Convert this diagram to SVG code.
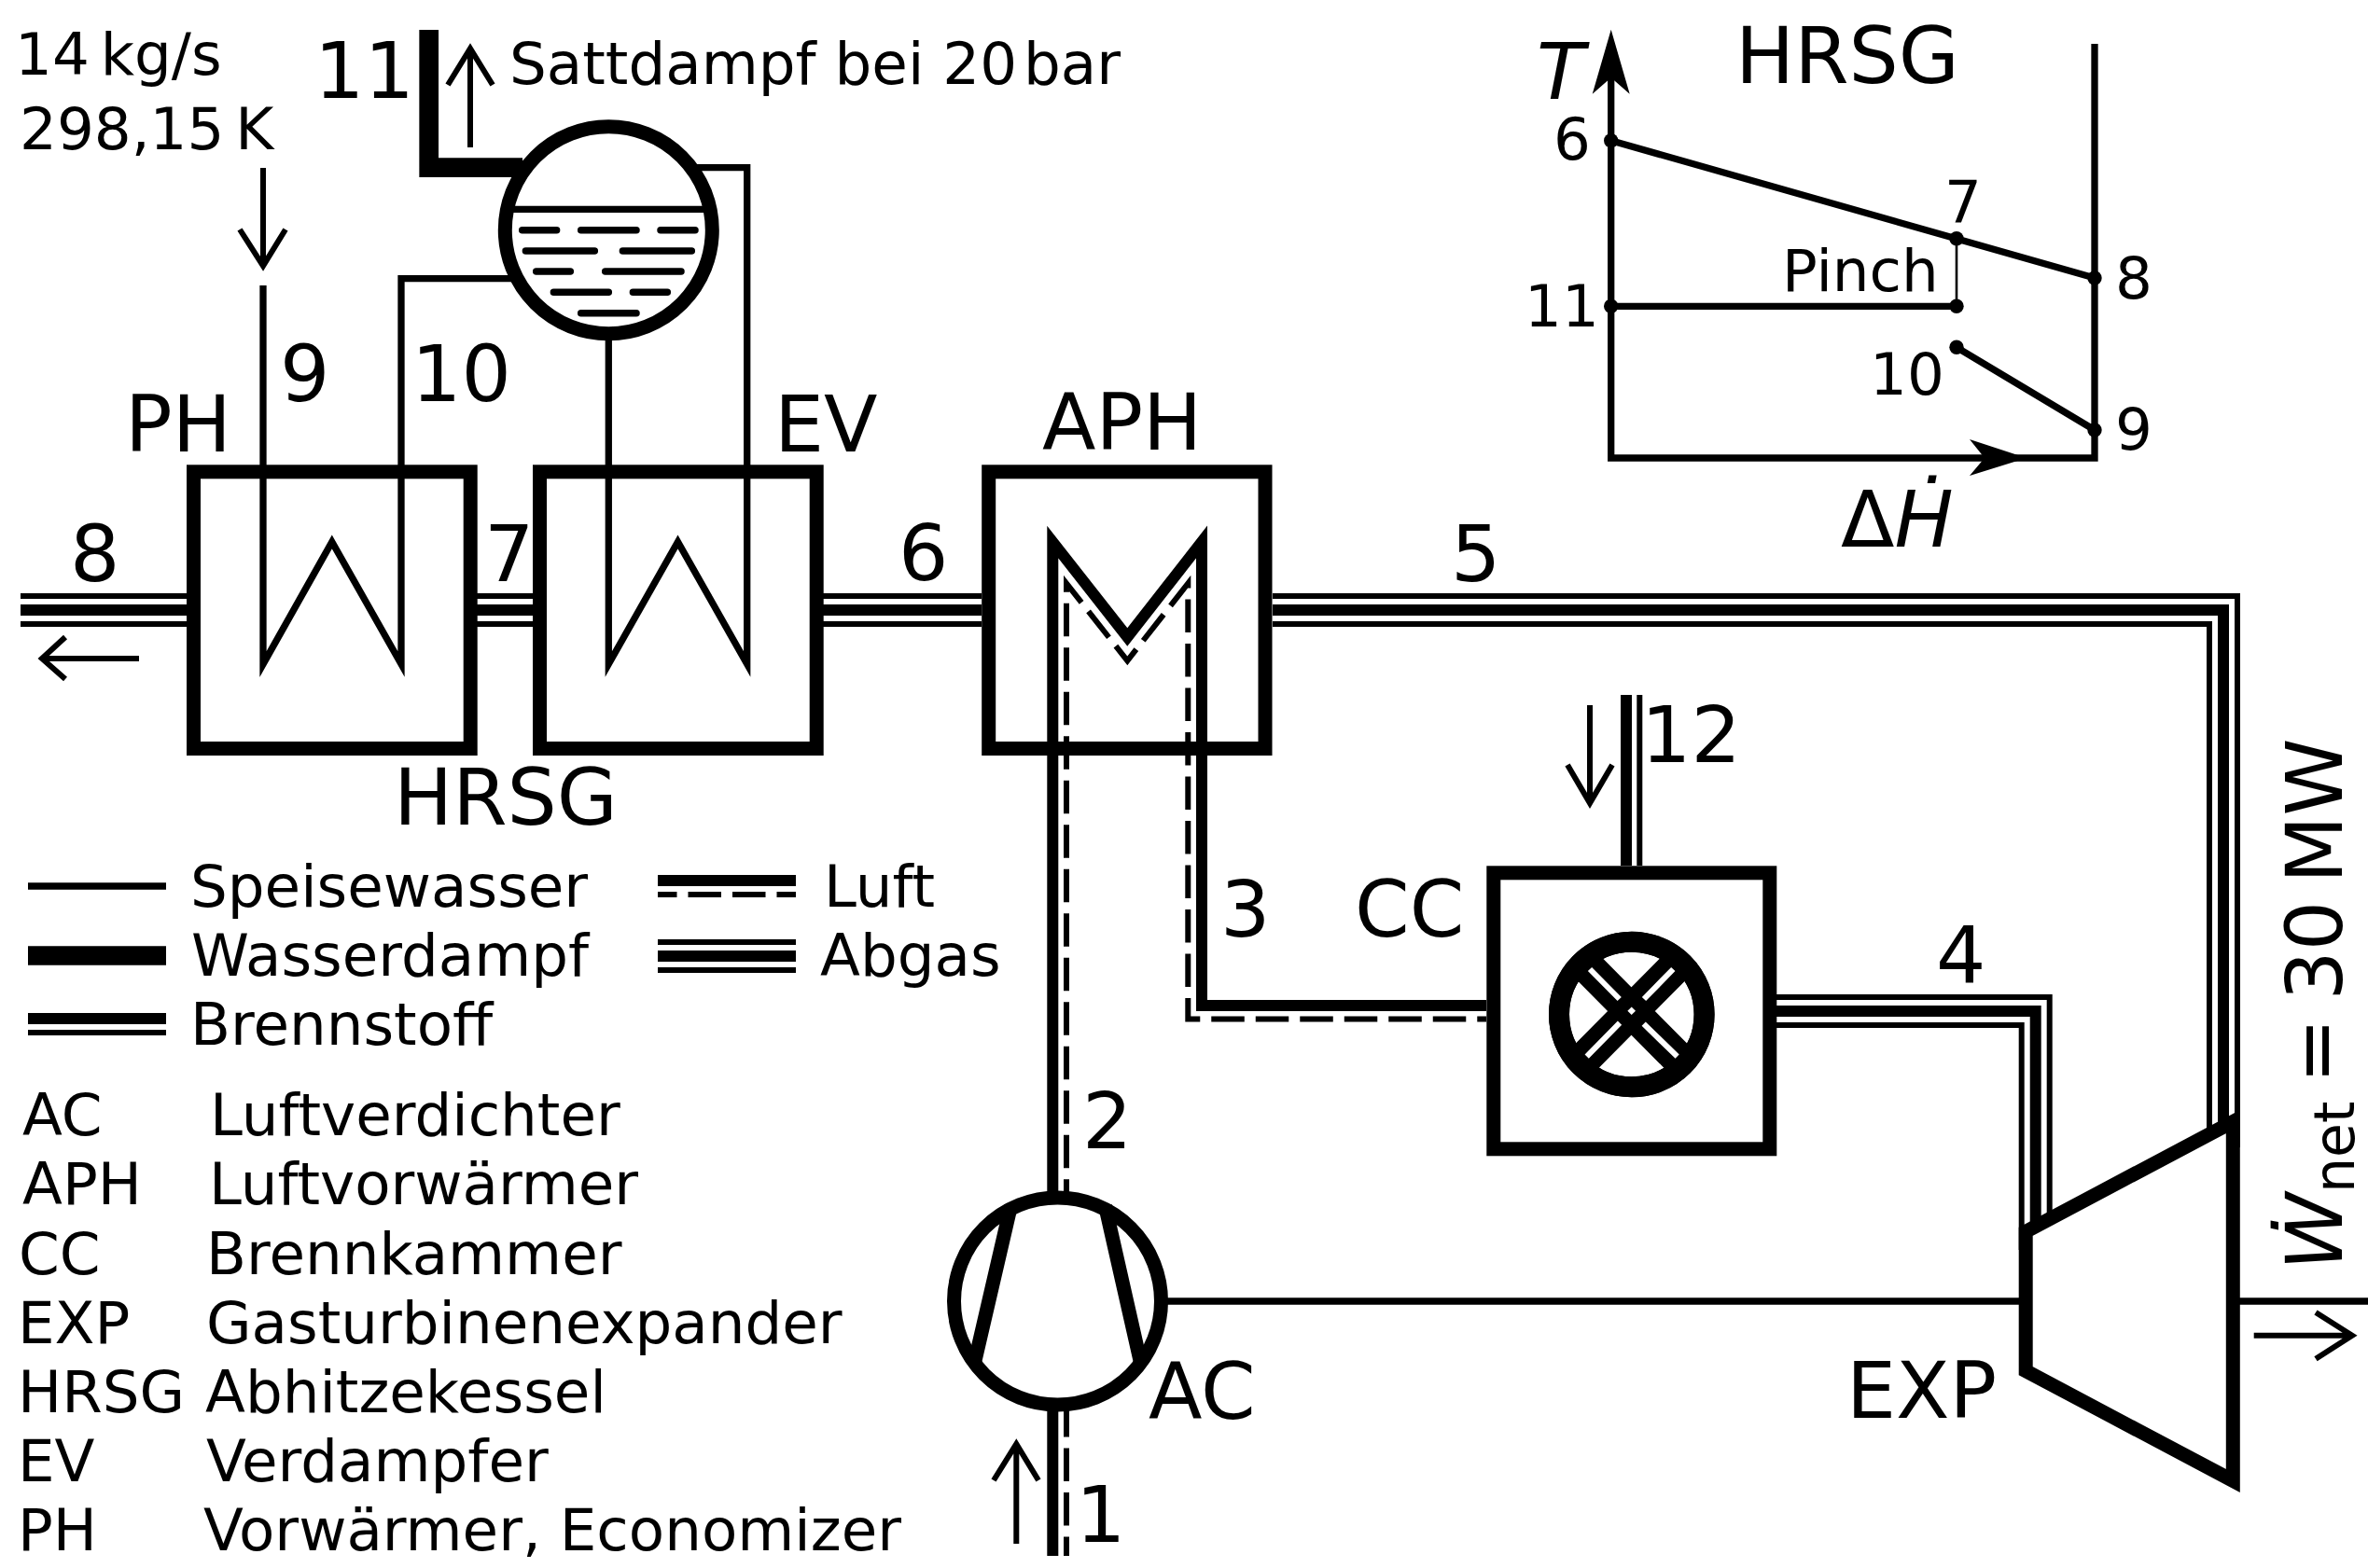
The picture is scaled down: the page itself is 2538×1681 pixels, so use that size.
<svg xmlns="http://www.w3.org/2000/svg" width="2538" height="1681" viewBox="0 0 2538 1681">
<style>
text{font-family:"DejaVu Sans",sans-serif;fill:#000}
.b{font-size:84px}.s{font-size:62.7px}.i{font-style:italic}.t{word-spacing:-8px}
.l{fill:none;stroke:#000;stroke-miterlimit:12}
.w7{stroke-width:7.300}.w6{stroke-width:6}.w5{stroke-width:5}.w3{stroke-width:2.600}.w12{stroke-width:12}.w21{stroke-width:20.700}.w15{stroke-width:15}
.box{fill:#fff;stroke:#000;stroke-width:15;stroke-miterlimit:12}
.wdash{fill:none;stroke:#000;stroke-width:6;stroke-dasharray:35.500 12;stroke-miterlimit:12}
.eo{fill:none;stroke:#000;stroke-width:36;stroke-miterlimit:12}
.em{fill:none;stroke:#fff;stroke-width:24;stroke-miterlimit:12}
.ei{fill:none;stroke:#000;stroke-width:12;stroke-miterlimit:12}
.rd{fill:none;stroke:#000;stroke-width:7.500;stroke-linecap:round}
.x{fill:none;stroke:#000;stroke-width:36}
.xw{fill:none;stroke:#fff;stroke-width:6}
</style>
<g id="connectors">
<path class="eo" d="M22,654H200M511,654H571M882,654H1052"/>
<path class="em" d="M22,654H200M511,654H571M882,654H1052"/>
<path class="ei" d="M22,654H200M511,654H571M882,654H1052"/>
<path id="exhaust-5" class="eo" d="M1364,654H2383V1230"/>
<path class="em" d="M1364,654H2383V1230"/>
<path class="ei" d="M1364,654H2383V1230"/>
<path id="exhaust-4" class="eo" d="M1904,1084H2181.700V1340"/>
<path class="em" d="M1904,1084H2181.700V1340"/>
<path class="ei" d="M1904,1084H2181.700V1340"/>
<path id="fuel-12a" class="l w12" d="M1743,745V928"/>
<path id="fuel-12b" class="l w6" d="M1757.300,745V928"/>
<path id="shaft" class="l w7" d="M1250,1395H2538"/>
<path id="water-10" class="l w7" d="M430,499V298.700H560"/>
<path id="water-ev-in" class="l w7" d="M652.300,360V499"/>
<path id="water-ev-out" class="l w7" d="M800.700,499V179.700H740"/>
<path id="water-9" class="l w7" d="M282,306V499"/>
<path id="steam-11" class="l w21" d="M459.700,32V179.700H560"/>
</g>
<g id="PH"><rect class="box" x="207.500" y="505.800" width="296.700" height="296.700"/><path class="l w7" d="M282,499V712L355.800,581L430,712V499"/><text class="b" x="134" y="484">PH</text></g>
<g id="EV"><rect class="box" x="578.500" y="505.800" width="296.700" height="296.700"/><path class="l w7" d="M652.300,499V712L726.500,581L800.700,712V499"/><text class="b" x="830" y="484">EV</text></g>
<g id="APH"><rect class="box" x="1059.700" y="505.800" width="296.300" height="296.700"/><text class="b" x="1117" y="482">APH</text></g>
<g id="air">
<path id="air-solid" class="l w12" d="M1128.300,1285V581L1208.300,683L1288,581V1078H1593"/>
<path id="air-dash" class="wdash" stroke-dashoffset="14.800" d="M1143,1285V625.400L1208.300,708.400L1273.300,625.400V1092.500H1593"/>
<path class="l w12" d="M1128.300,1505V1668"/>
<path class="wdash" d="M1143,1505V1668"/>
</g>
<g id="CC"><rect class="box" x="1600.800" y="935.800" width="296" height="296"/>
<circle class="l" stroke-width="22" cx="1748.800" cy="1087.500" r="77.800" fill="#fff"/>
<path class="x" d="M1698,1033L1799,1135M1799,1033L1698,1135"/>
<path class="xw" d="M1704,1039L1735.700,1071M1793.300,1039L1762,1071M1736,1096.700L1700.700,1132.700M1761.700,1097.700L1797.700,1132.700"/>
<circle class="l" stroke-width="22" cx="1748.800" cy="1087.500" r="77.800"/>
<path d="M1748.700,1079.500l4.300,4.300l-4.300,4.300l-4.300,-4.300z" fill="#fff"/>
<text class="b" x="1452" y="1004">CC</text></g>
<g id="AC"><circle class="l w15" cx="1133.500" cy="1395" r="111" fill="#fff"/>
<path class="l w15" d="M1083.400,1293L1044,1463M1184.600,1293L1223,1463"/>
<text class="b" x="1231" y="1521">AC</text></g>
<g id="EXP"><path class="box" d="M2171.200,1320.300L2393.300,1202.500V1587.500L2171.200,1469.700Z"/><text class="b" x="1979" y="1520">EXP</text></g>
<g id="drum"><circle class="l w15" cx="652.300" cy="246.700" r="111" fill="#fff"/>
<path class="l w7" d="M550,224.300H755"/>
<path class="rd" d="M559.700,246.700H596.600M622.700,246.700H682M708,246.700H745M563.400,269H637.300M667.400,269H741.300M574.700,291H611.300M648.700,291H730M593.400,313.300H652.300M678.400,313.300H715.300M622.700,335.700H682"/></g>
<g id="arrows">
<path class="l w6" d="M504,158V52M480,91L504,52L528,91"/>
<path class="l w6" d="M282,180V285M257,246L282,285L306,246"/>
<path class="l w6" d="M149,706H45M70,683L45,706L70,728"/>
<path class="l w6" d="M1089.300,1655V1548M1065,1587L1089.300,1548L1113,1587"/>
<path class="l w6" d="M1704,756V861M1680,820L1704,861L1728,820"/>
<path class="l w6" d="M2415.700,1431.700H2521M2482,1407L2521,1431.700L2482,1456.700"/>
</g>
<g id="labels">
<text class="s t" x="16" y="80">14 kg/s</text>
<text class="s t" x="21" y="160">298,15 K</text>
<text class="b" x="337" y="105">11</text>
<text class="s" x="546" y="90" dx="0 0 0 0 0 0 0 0 0 0 0 0 0 0 0 0 0 -13">Sattdampf bei 20 bar</text>
<text class="b" x="300" y="430">9</text>
<text class="b" x="441" y="430">10</text>
<text class="b" x="75" y="623">8</text>
<text class="b" x="519" y="623">7</text>
<text class="b" x="963" y="622">6</text>
<text class="b" x="1555" y="623">5</text>
<text class="b" x="422" y="884">HRSG</text>
<text class="b" x="1308" y="1004">3</text>
<text class="b" x="1759" y="817">12</text>
<text class="b" x="2075" y="1053">4</text>
<text class="b" x="1160" y="1231">2</text>
<text class="b" x="1153" y="1653">1</text>
<text class="b t" transform="translate(2510 1362) rotate(-90)"><tspan class="i">Ẇ</tspan><tspan font-size="60" dy="13">net</tspan><tspan dy="-13"> = 30 MW</tspan></text>
</g>
<g id="legend">
<path class="l w7" d="M30,950H178"/>
<path class="l w21" d="M30,1024.500H178"/>
<path class="l w12" d="M30,1092H178"/>
<path class="l w6" d="M30,1107H178"/>
<path class="l w12" d="M705,944H853"/>
<path class="wdash" stroke-dashoffset="15" d="M705,959H853"/>
<path class="eo" d="M705,1025H853"/><path class="em" d="M705,1025H853"/><path class="ei" d="M705,1025H853"/>
<text class="s" x="204" y="972">Speisewasser</text>
<text class="s" x="205" y="1046">Wasserdampf</text>
<text class="s" x="204" y="1120">Brennstoff</text>
<text class="s" x="883" y="972">Luft</text>
<text class="s" x="879" y="1046">Abgas</text>
<text class="s" x="24" y="1217">AC</text><text class="s" x="225" y="1217">Luftverdichter</text>
<text class="s" x="24" y="1291">APH</text><text class="s" x="224" y="1291">Luftvorwärmer</text>
<text class="s" x="20" y="1366">CC</text><text class="s" x="221" y="1366">Brennkammer</text>
<text class="s" x="19" y="1440">EXP</text><text class="s" x="221" y="1440">Gasturbinenexpander</text>
<text class="s" x="19" y="1514">HRSG</text><text class="s" x="220" y="1514">Abhitzekessel</text>
<text class="s" x="19" y="1588">EV</text><text class="s" x="221" y="1588">Verdampfer</text>
<text class="s" x="19" y="1662">PH</text><text class="s" x="218" y="1662">Vorwärmer, Economizer</text>
</g>
<g id="TH-diagram">
<path class="l w7" d="M1726.700,83V491H2245V47"/>
<path d="M1726.700,31.700L1746.700,100.700L1726.700,83.300L1706.700,100.700Z"/>
<path d="M2172,491L2111,510L2127,491L2111,471Z"/>
<path class="l w7" d="M1726.700,150.700L2245,298M1726.700,328.300H2097M2097,372.300L2245,461"/>
<path class="l w3" d="M2097,255.700V328"/>
<g><circle cx="1726.700" cy="150.700" r="7.700"/><circle cx="2097" cy="255.700" r="7.700"/><circle cx="2245" cy="298" r="7.700"/><circle cx="1726.700" cy="328.300" r="7.700"/><circle cx="2097" cy="328.300" r="7.700"/><circle cx="2097" cy="372.300" r="7.700"/><circle cx="2245" cy="461" r="7.700"/></g>
<text class="b i" x="1647" y="105.700">T</text>
<text class="b" x="1860" y="89.300">HRSG</text>
<text class="s" x="1665" y="171">6</text>
<text class="s" x="2084" y="238">7</text>
<text class="s" x="1910" y="311.700">Pinch</text>
<text class="s" x="2267" y="320">8</text>
<text class="s" x="1634" y="350">11</text>
<text class="s" x="2004" y="422.700">10</text>
<text class="s" x="2267" y="482">9</text>
<text class="b" x="1973" y="586">Δ<tspan class="i">Ḣ</tspan></text>
</g>
</svg>
